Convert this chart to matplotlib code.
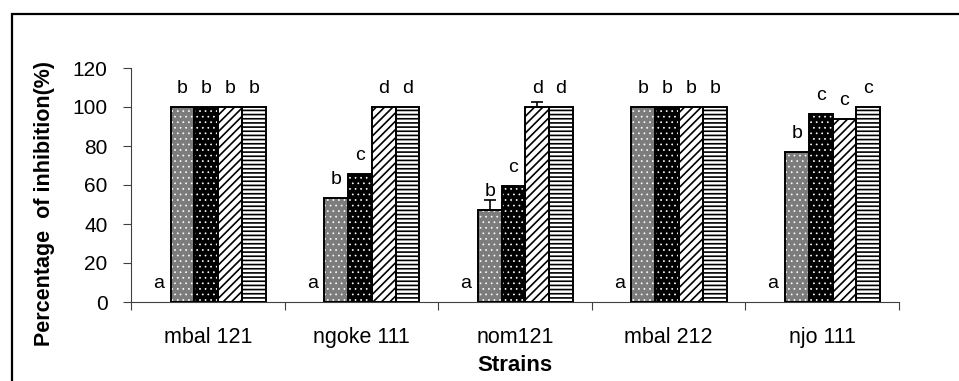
import matplotlib
matplotlib.use("Agg")
import matplotlib.pyplot as plt
from matplotlib.patches import Rectangle
import numpy as np

plt.rcParams['font.family'] = ['Liberation Sans', 'DejaVu Sans']

# --- data ---
strains = ["mbal 121", "ngoke 111", "nom121", "mbal 212", "njo 111"]
series_1 = [0, 0, 0, 0, 0]
series_2 = [100, 53.5, 47, 100, 77]
series_3 = [100, 65.5, 59.5, 100, 96.5]
series_4 = [100, 100, 100, 100, 94]
series_5 = [100, 100, 100, 100, 100]
err_2 = [0, 0, 5.5, 0, 0]
err_4 = [0, 0, 2.5, 0, 0]
letters_1 = ["a", "a", "a", "a", "a"]
letters_2 = ["b", "b", "b", "b", "b"]
letters_3 = ["b", "c", "c", "b", "c"]
letters_4 = ["b", "d", "d", "b", "c"]
letters_5 = ["b", "d", "d", "b", "c"]

series = [series_1, series_2, series_3, series_4, series_5]
errors = [None, err_2, None, err_4, None]
letters = [letters_1, letters_2, letters_3, letters_4, letters_5]
# (facecolor, hatch, hatch colour, hatch linewidth)
styles = [
    ("white", "", "black", 1.0),
    ("#7c7c7c", "...", "white", 0.5),
    ("black", "...", "white", 0.5),
    ("white", "////", "black", 1.2),
    ("white", "----", "black", 1.2),
]

fig = plt.figure(figsize=(9.59, 3.81), dpi=100)
ax = fig.add_axes([131 / 959, 1 - 302 / 381, 768 / 959, 234 / 381])

x = np.arange(len(strains))
w = 0.155
for i, vals in enumerate(series):
    pos = x + (i - 2) * w - 0.01
    fc, hatch, hc, hlw = styles[i]
    vals = np.array(vals)
    if i > 0:
        with plt.rc_context({'hatch.linewidth': hlw}):
            ax.bar(pos, vals, w, color=fc, hatch=hatch, edgecolor=hc,
                   linewidth=0, zorder=2)
        ax.bar(pos, vals, w, fill=False, edgecolor="black",
               linewidth=1.4, zorder=3)
    if errors[i] is not None:
        e = np.array(errors[i])
        m = e > 0
        ax.errorbar(pos[m], vals[m], yerr=[np.zeros(m.sum()), e[m]],
                    fmt="none", ecolor="black", elinewidth=1.2,
                    capsize=4, capthick=1.2, zorder=4)
    for p, v, lab in zip(pos, vals, letters[i]):
        ax.text(p, v + 9.5, lab, ha="center", va="center", fontsize=14)

ax.set_xlim(-0.5, 4.5)
ax.set_ylim(0, 120)
ax.set_yticks(np.arange(0, 121, 20))
ax.tick_params(axis="y", direction="out", length=6, width=0.8,
               labelsize=15, pad=11, color="#404040")
ax.set_xticks(np.arange(-0.5, 4.6, 1))
ax.set_xticklabels([])
ax.set_xticks(x, minor=True)
ax.set_xticklabels(strains, minor=True, fontsize=15.5)
ax.tick_params(axis="x", which="major", direction="out", length=6,
               width=0.8, color="#404040")
ax.tick_params(axis="x", which="minor", length=0, pad=18)

for s in ["top", "right"]:
    ax.spines[s].set_visible(False)
for s in ["left", "bottom"]:
    ax.spines[s].set_linewidth(0.8)
    ax.spines[s].set_color("#404040")

ax.set_xlabel("Strains", fontsize=16, fontweight="bold", va="top")
ax.xaxis.set_label_coords(0.5, -0.228)
ax.set_ylabel("Percentage  of inhibition(%)", fontsize=15.5, fontweight="bold")
ax.yaxis.set_label_coords(-0.099, 0.42)

# outer frame of the original figure box
fig.patches.append(Rectangle((12 / 959, -0.2), 1.2, 1 - 14 / 381 + 0.2,
                             transform=fig.transFigure, fill=False,
                             edgecolor="black", linewidth=1.6,
                             clip_on=False))

fig.savefig("out.png", dpi=100)
